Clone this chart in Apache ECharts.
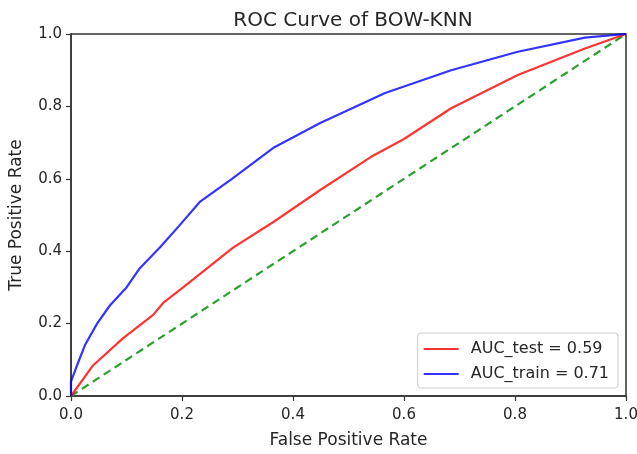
<!DOCTYPE html>
<html>
<head>
<meta charset="utf-8">
<script src="https://cdn.jsdelivr.net/npm/echarts@6/dist/echarts.min.js"></script>
<style>
  html, body { margin: 0; padding: 0; background: #fff; }
  #main { width: 637px; height: 454px; }
</style>
</head>
<body>
<div id="main"></div>
<script>
  // ROC points: [fpr, tpr]
  var rocTest = [
    [0, 0], [0.04, 0.085], [0.094, 0.16], [0.148, 0.224], [0.166, 0.257],
    [0.202, 0.30], [0.292, 0.41], [0.364, 0.48], [0.449, 0.569], [0.54, 0.66],
    [0.6, 0.71], [0.685, 0.795], [0.805, 0.887], [0.926, 0.96], [1, 1]
  ];
  var rocTrain = [
    [0, 0], [0, 0.04], [0.011, 0.085], [0.025, 0.14], [0.047, 0.2],
    [0.07, 0.25], [0.10, 0.30], [0.124, 0.353], [0.16, 0.41], [0.196, 0.472],
    [0.232, 0.536], [0.29, 0.60], [0.364, 0.685], [0.449, 0.754], [0.566, 0.837],
    [0.685, 0.90], [0.805, 0.951], [0.926, 0.99], [1, 1]
  ];
  var chance = [[0, 0], [1, 1]];
  var tickLabels = ['0.0', '0.2', '0.4', '0.6', '0.8', '1.0'];
  var seriesNames = ['AUC_test = 0.59', 'AUC_train = 0.71'];

  var font = 'DejaVu Sans';
  var myChart = echarts.init(document.getElementById('main'));

  function axisCfg(name, isY) {
    return {
      type: 'value',
      min: 0,
      max: 1,
      interval: 0.2,
      name: name,
      nameLocation: 'middle',
      nameGap: isY ? 46 : 36,
      nameTextStyle: { fontFamily: font, fontSize: 17, color: '#262626' },
      axisLine: { show: true, onZero: false, lineStyle: { color: '#333', width: 1.5 } },
      axisTick: { show: true, length: 5, lineStyle: { color: '#333', width: 1.2 } },
      axisLabel: {
        fontFamily: font, fontSize: 15, color: '#262626', margin: isY ? 9 : 12,
        formatter: function (v) { return tickLabels[Math.round(v * 5)]; }
      },
      splitLine: { show: false }
    };
  }

  var option = {
    animation: false,
    backgroundColor: '#fff',
    title: {
      text: 'ROC Curve of BOW-KNN',
      left: 348,
      textAlign: 'center',
      top: 6,
      textStyle: { fontFamily: font, fontSize: 20, fontWeight: 'normal', color: '#262626' }
    },
    grid: {
      left: 71, right: 11, top: 34, bottom: 58,
      outerBoundsMode: 'none',
      show: true, borderColor: '#333', borderWidth: 1.5, backgroundColor: '#fff'
    },
    legend: {
      orient: 'vertical',
      right: 19,
      bottom: 66,
      data: seriesNames,
      icon: 'rect',
      itemWidth: 35,
      itemHeight: 2,
      itemGap: 9,
      padding: [8, 9, 6, 6],
      borderColor: '#ccc',
      borderWidth: 1,
      borderRadius: 3,
      backgroundColor: 'rgba(255,255,255,0.85)',
      textStyle: { fontFamily: font, fontSize: 16, color: '#262626', padding: [0, 0, 0, 7] }
    },
    xAxis: axisCfg('False Positive Rate', false),
    yAxis: axisCfg('True Positive Rate', true),
    series: [
      {
        name: seriesNames[0],
        type: 'line',
        data: rocTest,
        symbol: 'none',
        color: 'rgba(255,0,0,0.8)',
        lineStyle: { width: 2.2, color: 'rgba(255,0,0,0.8)' },
        z: 3
      },
      {
        name: seriesNames[1],
        type: 'line',
        data: rocTrain,
        symbol: 'none',
        color: 'rgba(0,0,255,0.8)',
        lineStyle: { width: 2.2, color: 'rgba(0,0,255,0.8)' },
        z: 3
      },
      {
        name: 'chance',
        type: 'line',
        data: chance,
        symbol: 'none',
        lineStyle: { width: 2.2, color: '#2ca02c', type: [8, 5] },
        z: 2
      }
    ]
  };

  option && myChart.setOption(option);
</script>
</body>
</html>
